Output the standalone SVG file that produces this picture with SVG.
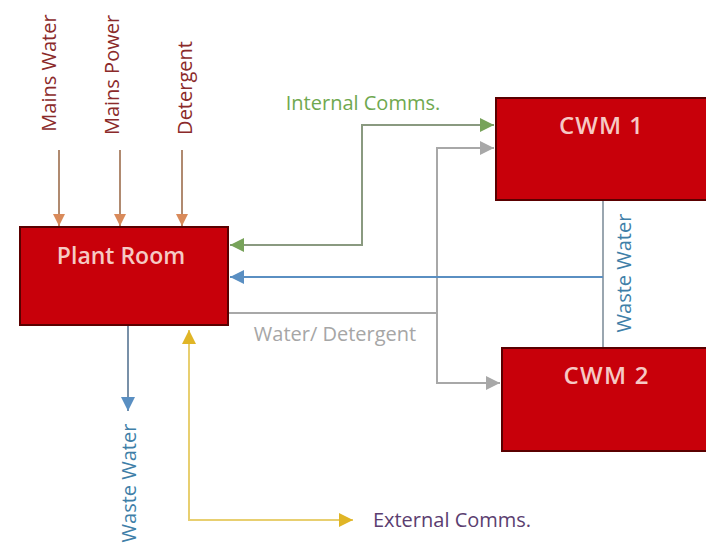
<svg xmlns="http://www.w3.org/2000/svg" width="706" height="544" viewBox="0 0 706 544">
<style>
.box{fill:#c8000a;stroke:#5a0000;stroke-width:2}
.nl{font-family:"Open Sans","Liberation Sans",sans-serif;font-weight:600;font-size:24px;fill:#f6c9c4;text-anchor:middle}
.lbl{font-family:"Open Sans","Liberation Sans",sans-serif;font-size:20px;text-anchor:middle;dominant-baseline:central}
.c{fill:none;stroke-width:2}
</style>
<defs>
<marker id="aO" markerUnits="userSpaceOnUse" markerWidth="14" markerHeight="14" refX="12" refY="6" orient="auto"><path d="M0,0 L12,6 L0,12 Z" fill="#d98a5a"/></marker>
<marker id="aG" markerUnits="userSpaceOnUse" markerWidth="16" markerHeight="16" refX="14" refY="7" orient="auto-start-reverse"><path d="M0,0 L14,7 L0,14 Z" fill="#77a35a"/></marker>
<marker id="aY" markerUnits="userSpaceOnUse" markerWidth="16" markerHeight="16" refX="14" refY="7" orient="auto-start-reverse"><path d="M0,0 L14,7 L0,14 Z" fill="#e0b526"/></marker>
<marker id="aB" markerUnits="userSpaceOnUse" markerWidth="16" markerHeight="16" refX="14" refY="7" orient="auto"><path d="M0,0 L14,7 L0,14 Z" fill="#5a8fc2"/></marker>
<marker id="aS" markerUnits="userSpaceOnUse" markerWidth="16" markerHeight="16" refX="14" refY="7" orient="auto"><path d="M0,0 L14,7 L0,14 Z" fill="#a8a8a8"/></marker>
</defs>
<g id="connectors">
<line class="c" x1="59" y1="150" x2="59" y2="226" stroke="#b08a70" marker-end="url(#aO)"/>
<line class="c" x1="120" y1="150" x2="120" y2="226" stroke="#b08a70" marker-end="url(#aO)"/>
<line class="c" x1="182" y1="150" x2="182" y2="226" stroke="#b08a70" marker-end="url(#aO)"/>
<path class="c" d="M230,245 H362 V125 H494" stroke="#8a9a80" marker-start="url(#aG)" marker-end="url(#aG)"/>
<path class="c" d="M228,313 H437 V148 H494" stroke="#a8a8a8" marker-end="url(#aS)"/>
<path class="c" d="M437,313 V383 H500" stroke="#a8a8a8" marker-end="url(#aS)"/>
<line class="c" x1="603" y1="201" x2="603" y2="347" stroke="#9aa6b0"/>
<line class="c" x1="603" y1="277" x2="230" y2="277" stroke="#5a8fc2" marker-end="url(#aB)"/>
<line class="c" x1="128" y1="326" x2="128" y2="411" stroke="#7890a8" marker-end="url(#aB)"/>
<path class="c" d="M189,330 V520 H353" stroke="#e8cf70" marker-start="url(#aY)" marker-end="url(#aY)"/>
</g>
<g id="plant-room">
<rect class="box" x="20" y="227" width="208" height="98"/>
<text class="nl" x="121" y="264" style="font-size:23px">Plant Room</text>
</g>
<g id="cwm1">
<rect class="box" x="496" y="98" width="212" height="102"/>
<text class="nl" x="601" y="134" textLength="84">CWM 1</text>
</g>
<g id="cwm2">
<rect class="box" x="502" y="348" width="206" height="103"/>
<text class="nl" x="606" y="384" textLength="85">CWM 2</text>
</g>
<g id="labels">
<text class="lbl" fill="#8b2a2a" transform="translate(48,73) rotate(-90)">Mains Water</text>
<text class="lbl" fill="#8b2a2a" transform="translate(111,75) rotate(-90)">Mains Power</text>
<text class="lbl" fill="#8b2a2a" transform="translate(184,88) rotate(-90)">Detergent</text>
<text class="lbl" fill="#6fa84f" x="363" y="102">Internal Comms.</text>
<text class="lbl" fill="#a6a6a6" x="335" y="333">Water/ Detergent</text>
<text class="lbl" fill="#3f7fa8" transform="translate(623,273) rotate(-90)">Waste Water</text>
<text class="lbl" fill="#3f7fa8" transform="translate(128,483) rotate(-90)">Waste Water</text>
<text class="lbl" fill="#5b3e70" x="452" y="519">External Comms.</text>
</g>
</svg>
